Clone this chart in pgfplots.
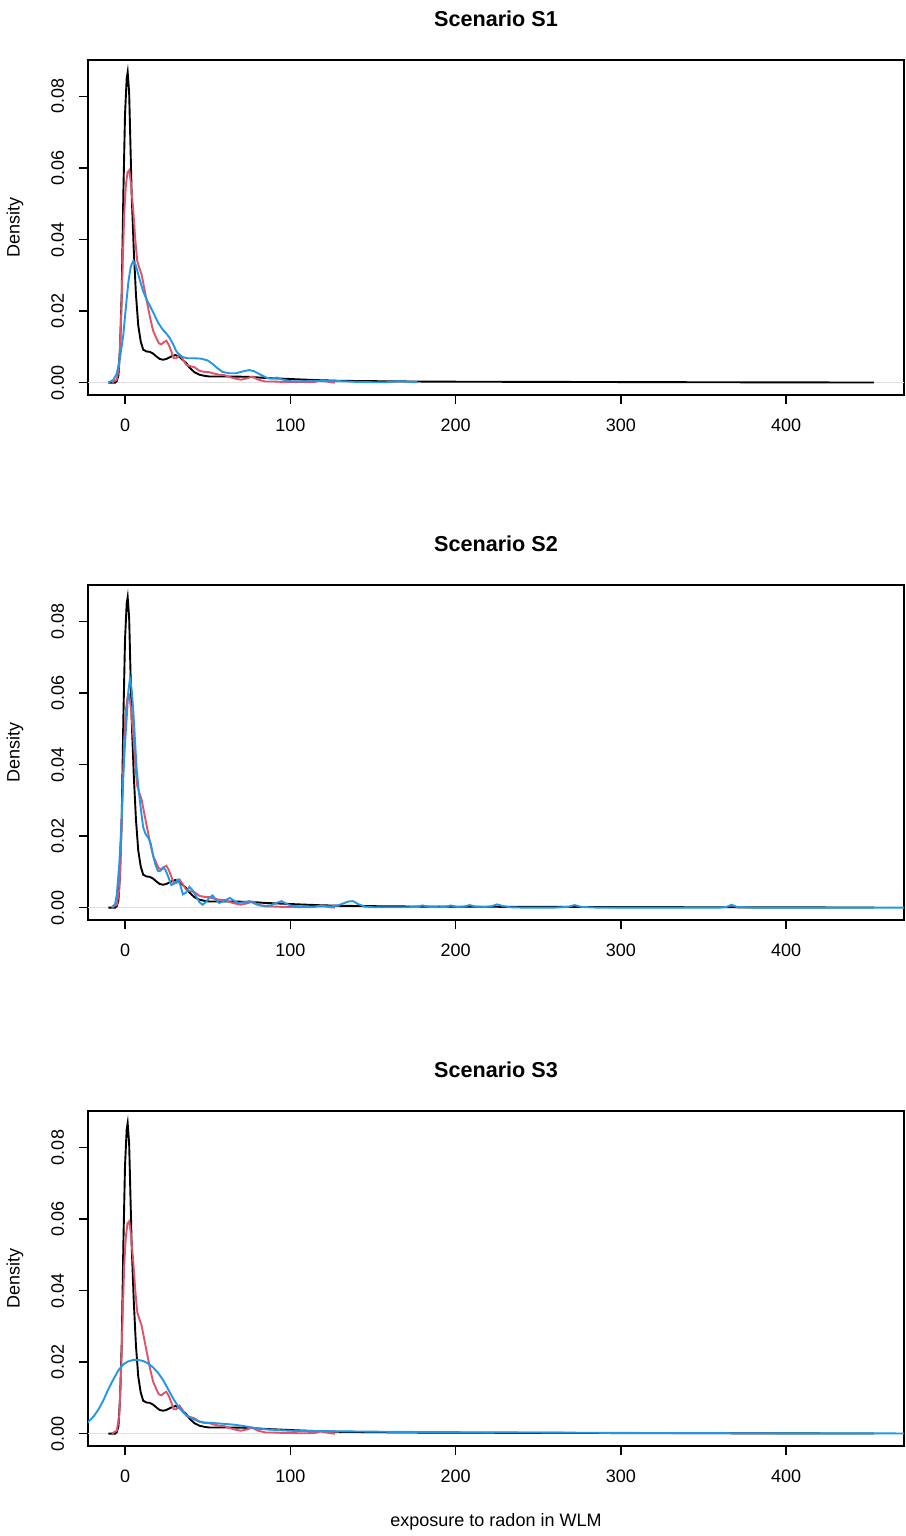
\documentclass[border=0pt]{standalone}
\usepackage{fontspec}
\setmainfont{Liberation Sans}
\usepackage{pgfplots}
\usepackage{pgfplotstable}
\pgfplotsset{compat=1.18}

\definecolor{rred}{HTML}{DF536B}
\definecolor{rblue}{HTML}{2297E6}

% density of the reference exposure (same in every panel)
\pgfplotstableread{
x y
-10 0
-6 0
-5 0.0004
-4 0.002
-3 0.01
-2 0.025
-1 0.053
0 0.075
1 0.085
1.6 0.0868
2.5 0.081
3.2 0.068
4 0.053
5.3 0.037
6.6 0.0247
8 0.016
9.5 0.0115
11 0.0092
13 0.0087
15 0.0086
17 0.0081
19 0.0073
21 0.0066
23 0.0064
25 0.0066
28 0.0073
30.5 0.0077
33 0.0072
35 0.0063
37 0.0055
39 0.0042
42 0.0029
45 0.0022
48 0.0019
51 0.0017
55 0.0017
65 0.0017
75 0.0016
85 0.0013
95 0.0011
105 0.0009
116 0.0007
130 0.0005
150 0.0004
175 0.0003
200 0.00025
250 0.0002
300 0.00015
350 0.0001
400 0.00006
453 0.00002
}\dblack

\pgfplotstableread{
x y
-8 0
-5 0.0008
-3.5 0.005
-2.5 0.016
-1.5 0.032
-0.5 0.047
0.5 0.055
1.5 0.0588
2.6 0.0594
3.5 0.056
5 0.048
6.2 0.04
7.4 0.034
8.7 0.032
10 0.0303
12 0.0255
13.5 0.022
15 0.0185
17 0.0145
19 0.0124
20.5 0.011
22 0.0107
23.5 0.0113
25 0.0117
26.5 0.0105
28 0.0087
29.5 0.0068
31 0.0068
33 0.0078
35 0.0065
37 0.005
39.5 0.0046
42 0.0043
45 0.0033
48 0.003
51 0.0029
54 0.0025
57 0.0022
60 0.0021
63 0.0016
66 0.0012
70 0.0008
74 0.0012
77 0.0017
80 0.0009
85 0.0003
90 0.0003
95 0.0002
100 0.0002
105 0.0001
110 0.0001
115 0.0002
118 0.0006
121 0.0004
124 0.0001
127 0
}\dred

\pgfplotstableread{
x y
-10 0
-7 0.0008
-5 0.0025
-3 0.007
-1 0.0135
0.5 0.021
2 0.028
3.5 0.0325
5 0.034
6.5 0.0328
8 0.0303
9.5 0.0278
11 0.0255
13 0.0233
15 0.0215
17.5 0.0192
20 0.0168
22.5 0.015
25 0.0137
27 0.0125
29 0.0108
31 0.0088
33 0.0077
35 0.0071
38 0.0068
42 0.0068
46 0.0067
50 0.0062
53 0.0052
56 0.004
59 0.003
63 0.0026
67 0.0026
71 0.0031
75 0.0035
78 0.0032
82 0.0022
86 0.0013
89 0.0011
92 0.0014
95 0.0009
100 0.0004
105 0.0003
110 0.0004
115 0.0005
120 0.0004
130 0.0004
140 0.0002
150 0.0001
158 0.0001
165 0.0004
170 0.0003
177 0.0001
}\bluea

\pgfplotstableread{
x y
-8 0
-6 0.001
-5 0.0036
-3.5 0.012
-2 0.025
-1 0.037
0 0.046
1 0.053
2 0.0605
3 0.064
4 0.061
5 0.055
6 0.047
7 0.039
8 0.034
9 0.0298
10 0.026
11 0.0224
12.5 0.0205
14 0.0196
15.5 0.018
17 0.0145
18.5 0.0118
20 0.0102
21.5 0.0103
23 0.0112
24.5 0.0105
26 0.0088
28 0.0063
30 0.0068
32 0.0078
33.5 0.0062
35 0.0037
37 0.0042
39 0.0058
41 0.0048
43 0.0032
45 0.0015
47 0.0008
49 0.0016
51 0.0028
53 0.0034
55 0.0022
57 0.0013
60 0.0019
63.5 0.0027
66 0.0019
68.5 0.0013
72 0.0015
75.5 0.0018
78.5 0.0011
81.5 0.0006
85 0.0005
88 0.0006
91 0.0012
94.7 0.0018
97.5 0.0011
100 0.0006
105 0.0003
112 0.0003
120 0.0003
126 0.0004
130 0.0008
135 0.0017
138 0.0018
141 0.001
145 0.0003
150 0.0001
160 0.0001
172 0.0001
177 0.0003
180 0.0006
184 0.0002
190 0.0001
194 0.0002
197 0.0006
201 0.0002
205 0.0003
208.5 0.0007
212 0.0003
218 0.0002
222 0.0004
225 0.0009
228 0.0005
233 0.0001
240 0
260 0
268 0.0002
272 0.0007
276 0.0002
285 0
360 0
364 0.0002
367 0.0008
370 0.0002
380 0
475 0
}\blueb

\pgfplotstableread{
x y
-25 0.0025
-22.4 0.0032
-19 0.0048
-16 0.0068
-13 0.0094
-10 0.0125
-7 0.0152
-4 0.0177
-1 0.0194
2 0.0202
5 0.0206
8 0.0206
11 0.0203
14 0.0196
17 0.0185
20 0.017
23 0.015
26 0.0125
29 0.0099
32 0.0077
35 0.006
38 0.0049
41 0.0041
44 0.0035
48 0.0031
52 0.003
58 0.0028
66 0.0025
72 0.0021
78 0.0016
85 0.0012
92 0.001
100 0.0008
110 0.0007
120 0.0007
140 0.0006
160 0.0005
200 0.0004
250 0.0003
300 0.0002
350 0.00013
400 0.00008
475 0.00004
}\bluec

\pgfplotsset{
  dens/.style={
    scale only axis, width=408pt, height=167.5pt, anchor=south west,
    xmin=-22.4, xmax=471.3, ymin=-0.00347, ymax=0.0902,
    xtick={0,100,200,300,400}, ytick={0,0.02,0.04,0.06,0.08},
    tick pos=left, tick align=outside, major tick length=4.5pt,
    axis line style={line width=0.8pt},
    every tick/.style={black, line width=0.8pt},
    scaled y ticks=false,
    /pgf/number format/assume math mode=true,
    ticklabel style={font=\fontsize{9}{10}\selectfont},
    xticklabel shift=4pt, yticklabel shift=4pt,
    yticklabel style={rotate=90, anchor=south,
      /pgf/number format/.cd, fixed, fixed zerofill, precision=2},
    ylabel={Density},
    every axis y label/.style={at={(rel axis cs:0,0.5)}, xshift=-36.5pt,
      rotate=90, anchor=center, font=\fontsize{9}{10}\selectfont},
    title style={at={(0.5,1)}, anchor=base, yshift=10.7pt,
      font=\fontsize{10.8}{12}\selectfont\bfseries},
    every axis plot/.append style={line width=0.95pt, no marks},
  }
}

\begin{document}
\begin{tikzpicture}
\useasboundingbox (0,0) rectangle (452.5pt,-768pt);

\begin{axis}[dens, at={(44pt,-197.5pt)}, title={Scenario S1}]
\addplot[gray!25, line width=0.6pt] coordinates {(-30,0) (480,0)};
\addplot[black] table {\dblack};
\addplot[rred] table {\dred};
\addplot[rblue] table {\bluea};
\end{axis}

\begin{axis}[dens, at={(44pt,-460pt)}, title={Scenario S2}]
\addplot[gray!25, line width=0.6pt] coordinates {(-30,0) (480,0)};
\addplot[black] table {\dblack};
\addplot[rred] table {\dred};
\addplot[rblue] table {\blueb};
\end{axis}

\begin{axis}[dens, at={(44pt,-723pt)}, title={Scenario S3},
  xlabel={exposure to radon in WLM},
  xlabel style={at={(0.5,0)}, anchor=base, yshift=-40pt,
    font=\fontsize{9}{10}\selectfont}]
\addplot[gray!25, line width=0.6pt] coordinates {(-30,0) (480,0)};
\addplot[black] table {\dblack};
\addplot[rred] table {\dred};
\addplot[rblue] table {\bluec};
\end{axis}
\end{tikzpicture}
\end{document}
